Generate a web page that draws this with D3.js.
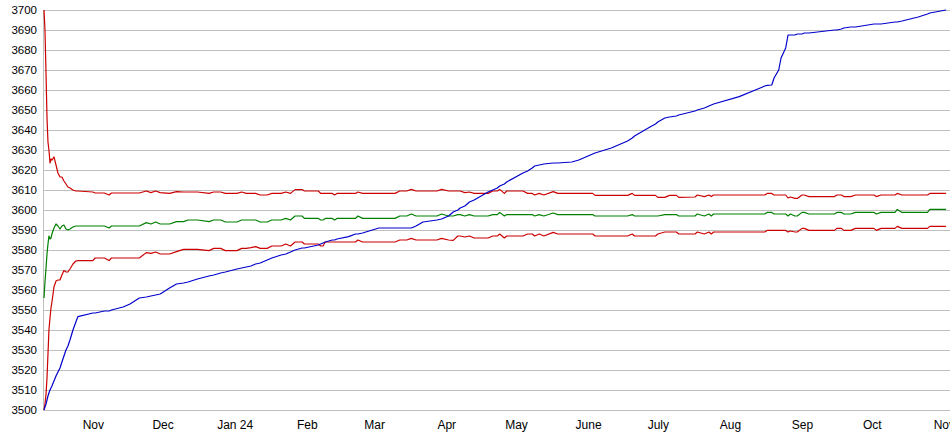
<!DOCTYPE html>
<head>
<meta charset="utf-8">
<style>
  body { margin: 0; background: white; }
  svg { display: block; background: white; font-family: 'Liberation Sans', Arial, sans-serif; }
  .grid line { stroke: #c0c0c0; shape-rendering: crispEdges; }
  .axis text { fill: #000; }
  .series { fill: none; stroke-width: 1.2; stroke-linejoin: round; }
</style>
</head>
<body>
<script src="https://cdn.jsdelivr.net/npm/d3@7"></script>
<script>
// dates (early points carry hours)
var dates = [
  "2023-10-11 00:00","2023-10-11 10:00","2023-10-11 21:00","2023-10-12 07:00","2023-10-12 17:00",
  "2023-10-13 03:00","2023-10-13 14:00","2023-10-14 00:00","2023-10-14 10:00","2023-10-15 07:00",
  "2023-10-16 04:00","2023-10-17 00:00","2023-10-17 21:00","2023-10-18 17:00","2023-10-19 14:00",
  "2023-10-20 11:00","2023-10-21 07:00","2023-10-22 04:00","2023-10-23 11:00","2023-10-24 17:00",
  "2023-10-25 14:00",
  "2023-11-01","2023-11-02","2023-11-06","2023-11-08","2023-11-09","2023-11-14","2023-11-17",
  "2023-11-21","2023-11-24","2023-11-26","2023-11-28","2023-11-30",
  "2023-12-04","2023-12-07","2023-12-10","2023-12-12","2023-12-16","2023-12-21","2023-12-23",
  "2023-12-26","2023-12-28",
  "2024-01-02","2024-01-04","2024-01-06","2024-01-08","2024-01-10","2024-01-12","2024-01-15",
  "2024-01-17","2024-01-21","2024-01-23","2024-01-25","2024-01-27","2024-01-30","2024-01-31",
  "2024-02-06","2024-02-07","2024-02-08","2024-02-09","2024-02-12","2024-02-13","2024-02-14",
  "2024-02-19","2024-02-22","2024-02-23","2024-02-25",
  "2024-03-03","2024-03-10","2024-03-12","2024-03-15","2024-03-17","2024-03-19","2024-03-22",
  "2024-03-28","2024-03-30",
  "2024-04-02","2024-04-04","2024-04-06","2024-04-07","2024-04-09","2024-04-11","2024-04-13",
  "2024-04-19","2024-04-21","2024-04-23","2024-04-24","2024-04-26","2024-04-27",
  "2024-05-04","2024-05-06","2024-05-08","2024-05-09","2024-05-11","2024-05-13","2024-05-17",
  "2024-05-19","2024-05-25","2024-05-28",
  "2024-06-01","2024-06-03","2024-06-04","2024-06-11","2024-06-18","2024-06-20","2024-06-21",
  "2024-06-28","2024-06-30",
  "2024-07-01","2024-07-04","2024-07-06","2024-07-09","2024-07-10","2024-07-17","2024-07-18",
  "2024-07-21","2024-07-23","2024-07-24","2024-07-25",
  "2024-08-05","2024-08-13","2024-08-16","2024-08-17","2024-08-19","2024-08-20","2024-08-22",
  "2024-08-23","2024-08-25","2024-08-26","2024-08-27","2024-08-29","2024-08-30",
  "2024-09-01","2024-09-02","2024-09-04","2024-09-15","2024-09-16","2024-09-18","2024-09-19",
  "2024-09-22","2024-09-24",
  "2024-10-02","2024-10-03","2024-10-05","2024-10-11","2024-10-12","2024-10-14","2024-10-21",
  "2024-10-25","2024-10-26","2024-11-02"
];

var blueVals = [
  3500,3501.5,3503,3505,3507,3508.5,3510,3511,3512,3514.5,
  3517,3519,3521,3524,3527,3530,3532,3535,3540,3544,
  3546.7,
  3548.5,3548.5,3549.5,3549.5,3550,3551.5,3553,3556,3556.5,3557,3557.5,3558,
  3561,3563,3563.5,3564,3565.5,3567,3567.5,3568.5,3569,
  3570.5,3571,3571.5,3572,3573,3573.5,3575,3576,3577.5,3578,3579,3580,3581,3581,
  3582.5,3583,3583.5,3584,3585,3585,3585.5,3586.7,3588,3588,3588.5,
  3591,3591,3591,3591,3591,3592,3594,3595,3595.5,
  3597,3599,3600,3601,3602,3604,3605,3609,3610,3611,3612,3613,3614,
  3618.5,3619.5,3621,3622,3622.5,3623,3623.5,3623.5,3624,3625,
  3627,3628,3628.5,3631,3634.5,3636,3637,3641.7,3643,
  3644,3646,3646.5,3647,3647.5,3649.5,3650,3651,3652,3652.5,3653,
  3656.7,3660.5,3662,3662.3,3662.5,3666,3670,3676,3681,3687.5,3687.5,3687.5,3688,
  3688,3688.5,3688.5,3690,3690,3690.5,3691,3691.5,3691.5,
  3693,3693,3693,3694,3694,3694.5,3696.5,3698,3698.5,3700
];

var upperRedVals = [
  3700,3690,3668,3646,3634,3630,3623.5,3625.5,3625,3626.5,
  3622.5,3618.5,3616.5,3616.5,3614.5,3613,3611.5,3611,3610,3609.5,
  3609.5,
  3609,3608.5,3608.5,3607.5,3608.5,3608.5,3608.5,3608.5,3609.5,3608.7,3609.5,3608.7,
  3608.3,3609.2,3609,3609,3609,3608.3,3609,3609,3608.3,
  3608.3,3609,3608.3,3608.3,3608.3,3607.5,3607.5,3608.3,3608.3,3609,3608.3,3610.2,3610.2,3609.5,
  3609.5,3608.3,3608.3,3608.3,3608.3,3607.5,3608.3,3608.3,3608.3,3609,3608.3,
  3608.3,3608.3,3609.5,3609.5,3610.3,3609.5,3609.5,3609.5,3610.3,
  3609.5,3609.5,3609.5,3609.5,3608.7,3609,3608.3,3608.3,3609.5,3609.5,3610.3,3608.3,3609.5,
  3609.5,3608.3,3608.3,3607.5,3608.3,3607.5,3609.2,3608.3,3608.3,3608.3,
  3608.3,3608.3,3607.3,3607.3,3607.3,3608.3,3607.3,3607.3,3607.3,
  3606.3,3606.3,3607.3,3607.3,3606.3,3606.5,3607.5,3606.7,3607.5,3606.7,3607.5,
  3607.5,3607.5,3607.5,3608.3,3608.3,3607.5,3607.5,3607.5,3607.5,3606,3606.5,3605.8,3605.8,
  3607.5,3607.5,3606.7,3606.7,3607.5,3607.5,3606.7,3606.7,3607.5,
  3607.5,3606.7,3607.5,3607.5,3608.3,3607.5,3607.5,3607.5,3608.3,3608.3
];

var greenVals = [
  3556,3564,3571,3578,3583,3587,3585.5,3586,3588,3591,
  3593,3592,3590.5,3592,3592.5,3590.5,3590,3590.5,3591.5,3592,
  3592,
  3592,3592,3592,3591,3592,3592,3592,3592,3593.7,3593,3594,3593,
  3593,3594.2,3594.2,3595,3595,3594.2,3595,3595,3594,
  3594,3595,3595,3595,3595,3594,3594,3595,3595,3595.8,3595,3597,3597,3595.8,
  3595.8,3595,3595,3595.8,3595.8,3595,3595.8,3595.8,3595.8,3597,3595.8,
  3595.8,3595.8,3597,3597,3598,3597,3597,3597,3598,
  3597,3597,3597.7,3597.7,3597,3597.7,3597,3597,3597.7,3597.7,3598.8,3597,3597.7,
  3597.7,3597.7,3597.7,3597,3597.7,3597,3598.5,3597.7,3597.7,3597.7,
  3597.7,3597.7,3597,3597,3597,3597.7,3597,3597,3597,
  3597,3597.7,3597.7,3597.7,3597,3597,3598,3597,3598,3597,3598,
  3598,3598,3598,3598.8,3598.8,3598,3598,3598,3598,3597,3598,3597,3597,
  3598.8,3598.8,3598,3598,3598.8,3598.8,3598,3598,3598.8,
  3598.8,3598,3598.8,3598.8,3600.3,3598.8,3598.8,3598.8,3600.3,3600.3
];

var lowerRedVals = [
  3500,3503,3508,3516,3528,3540,3546,3551,3554,3561.5,
  3564.5,3565,3565,3567.5,3569.7,3569,3569,3570.5,3573,3574.5,
  3574.7,
  3574.7,3576,3576,3574.7,3576,3576,3576,3576,3578.7,3578.3,3579,3578,
  3578,3579.2,3580.3,3580.3,3580.3,3579.7,3580.8,3580.8,3579.7,
  3579.7,3580.8,3580.8,3581.2,3581.7,3580.8,3580.8,3582,3582,3583,3582,3584,3584,3583,
  3583,3582,3582,3584,3584,3584,3584,3584,3584,3585,3584,
  3584,3584,3585,3585,3585.8,3585,3585,3585,3585.8,
  3585,3584.8,3587,3587,3586.5,3587,3586,3586,3587,3587,3588,3586,3587,
  3587,3588,3588,3587,3588,3587,3588.8,3588,3588,3588,
  3588,3588,3587,3587,3587,3588,3587,3587,3587,
  3588,3589,3589,3589,3588,3588,3589,3588,3589,3588,3589,
  3589,3589,3589,3589.8,3589.8,3589.8,3589.8,3589.8,3589.8,3589,3589.5,3589,3589,
  3590.8,3590.8,3589.8,3589.8,3590.8,3590.8,3589.8,3589.8,3590.8,
  3590.8,3589.8,3590.8,3590.8,3591.8,3590.8,3590.8,3590.8,3591.8,3591.8
];

var yTicks = d3.range(3500, 3701, 10);
var monthNames = ["Jan","Feb","Mar","Apr","May","June","July","Aug","Sep","Oct","Nov","Dec"];

var width = 950, height = 435;
var margin = {top: 10, right: 0, bottom: 25, left: 44};

var parseHour = d3.utcParse("%Y-%m-%d %H:%M"), parseDay = d3.utcParse("%Y-%m-%d");
function parseDate(s) { return s.length > 10 ? parseHour(s) : parseDay(s); }

var xs = dates.map(parseDate);
var xScale = d3.scaleUtc([parseHour("2023-10-11 00:00"), parseHour("2024-11-03 16:00")], [margin.left, width - margin.right]);
var yScale = d3.scaleLinear([3500, 3700], [height - margin.bottom, margin.top]);

var svg = d3.select('body').append('svg')
  .attr('width', width)
  .attr('height', height);

// GRID
svg.append('g').attr('class', 'grid')
  .selectAll('line').data(yTicks).join('line')
  .attr('x1', margin.left - 1).attr('x2', width)
  .attr('y1', d => yScale(d)).attr('y2', d => yScale(d));

svg.append('line')
  .attr('x1', margin.left - 1).attr('x2', margin.left - 1)
  .attr('y1', yScale(3700)).attr('y2', yScale(3500))
  .attr('stroke', '#c0c0c0').attr('shape-rendering', 'crispEdges');

// AXES
var yAxis = d3.axisLeft(yScale).tickValues(yTicks).tickSize(0).tickPadding(6)
  .tickFormat(d3.format("d"));
var yAxisG = svg.append('g')
  .attr('class', 'axis')
  .attr('transform', `translate(${margin.left - 1},0)`)
  .call(yAxis);
yAxisG.select('.domain').remove();
yAxisG.selectAll('text').style('font-size', '11.5px').attr('fill', '#000');

var xAxis = d3.axisBottom(xScale)
  .ticks(d3.utcMonth.every(1))
  .tickSize(0).tickPadding(10)
  .tickFormat(d => {
    var m = d.getUTCMonth();
    return m === 0 ? monthNames[0] + " " + String(d.getUTCFullYear()).slice(2) : monthNames[m];
  });
var xAxisG = svg.append('g')
  .attr('class', 'axis')
  .attr('transform', `translate(0,${height - margin.bottom})`)
  .call(xAxis);
xAxisG.select('.domain').remove();
xAxisG.selectAll('text').style('font-size', '12px').attr('fill', '#000');

// LINES
var series = [
  {vals: upperRedVals, color: '#cc0000'},
  {vals: greenVals, color: '#008000'},
  {vals: lowerRedVals, color: '#cc0000'},
  {vals: blueVals, color: '#0000cc'}
];

var line = d3.line()
  .x((d, i) => xScale(xs[i]))
  .y(d => yScale(d));

svg.selectAll('path.series').data(series).join('path')
  .attr('class', 'series')
  .attr('stroke', d => d.color)
  .attr('d', d => line(d.vals));
</script>
</body>
